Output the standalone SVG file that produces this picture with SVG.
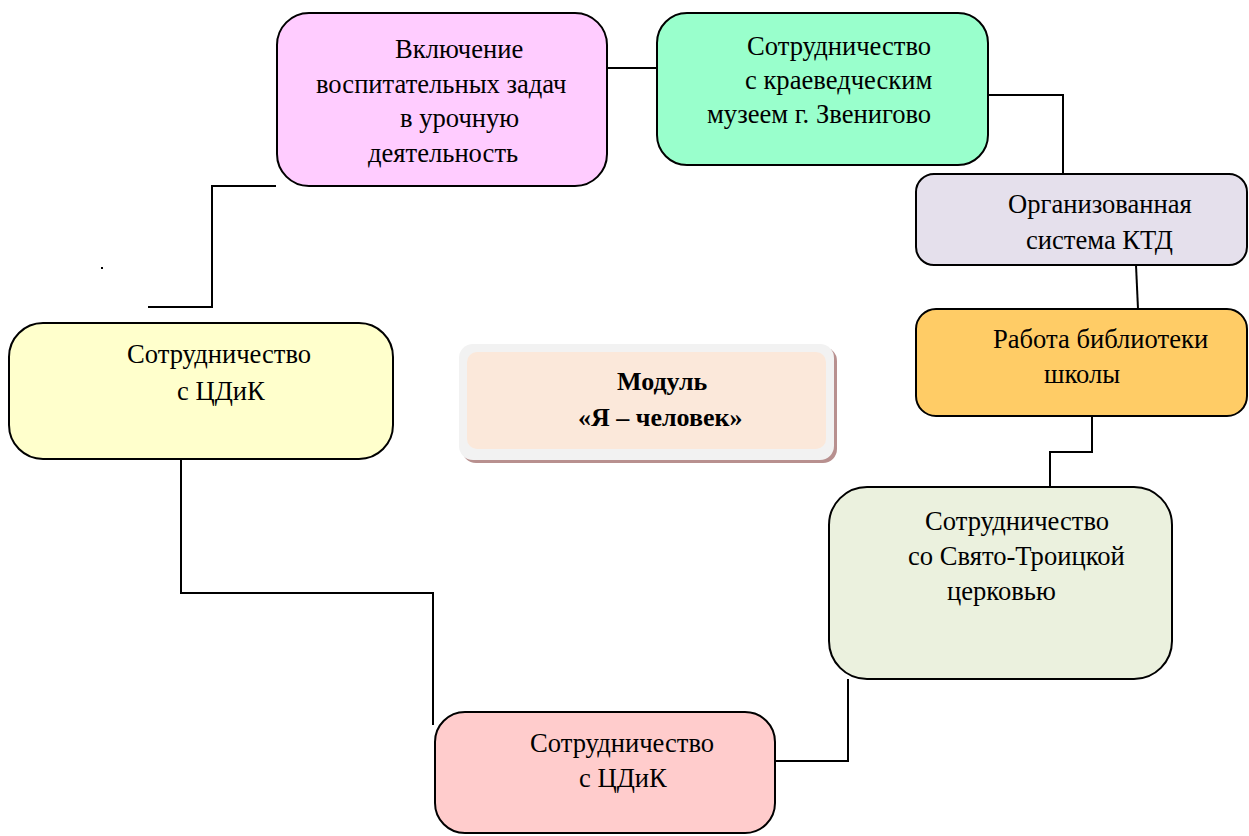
<svg xmlns="http://www.w3.org/2000/svg" width="1249" height="836" viewBox="0 0 1249 836">
<style>
.box{stroke:#000;stroke-width:2}
.t{font-family:"Liberation Serif","Times New Roman",serif;font-size:26.6px;fill:#000}
.b{font-family:"Liberation Serif","Times New Roman",serif;font-size:26px;font-weight:bold;fill:#000}
.c{fill:none;stroke:#000;stroke-width:2}
</style>
<rect width="1249" height="836" fill="#fff"/>
<g id="connectors">
<polyline class="c" points="607,68 657,68"/>
<polyline class="c" points="988,95 1063,95 1063,175"/>
<polyline class="c" points="1136,265 1138,309"/>
<polyline class="c" points="1092,416 1092,452 1050,452 1050,487"/>
<polyline class="c" points="848,679 848,761 771,761"/>
<polyline class="c" points="433,725 433,593 181,593 181,459"/>
<polyline class="c" points="148,307 212,307 212,186 276,186"/>
<rect x="101" y="267" width="2" height="2" fill="#000"/>
</g>
<g id="n-lessons">
<rect class="box" x="277" y="13" width="330" height="173" rx="32" fill="#FFCCFF"/>
<text class="t" x="395" y="58">Включение</text>
<text class="t" x="316" y="93">воспитательных задач</text>
<text class="t" x="400" y="127">в урочную</text>
<text class="t" x="368" y="162">деятельность</text>
</g>
<g id="n-museum">
<rect class="box" x="657" y="13" width="331" height="152" rx="30" fill="#99FFCC"/>
<text class="t" x="747" y="55">Сотрудничество</text>
<text class="t" x="745" y="89">с краеведческим</text>
<text class="t" x="707" y="123">музеем г. Звенигово</text>
</g>
<g id="n-ktd">
<rect class="box" x="916" y="174" width="331" height="91" rx="18" fill="#E5E0EC"/>
<text class="t" x="1008" y="213">Организованная</text>
<text class="t" x="1026" y="249">система КТД</text>
</g>
<g id="n-library">
<rect class="box" x="916" y="309" width="331" height="107" rx="20" fill="#FFCC66"/>
<text class="t" x="993" y="348">Работа библиотеки</text>
<text class="t" x="1044" y="383">школы</text>
</g>
<g id="n-church">
<rect class="box" x="829" y="487" width="343" height="192" rx="38" fill="#EBF1DE"/>
<text class="t" x="925" y="530">Сотрудничество</text>
<text class="t" x="908" y="565">со Свято-Троицкой</text>
<text class="t" x="947" y="600">церковью</text>
</g>
<g id="n-cdik-bottom">
<rect class="box" x="435" y="712" width="340" height="121" rx="30" fill="#FFCCCC"/>
<text class="t" x="530" y="752">Сотрудничество</text>
<text class="t" x="579" y="787">с ЦДиК</text>
</g>
<g id="n-cdik-left">
<rect class="box" x="9" y="323" width="384" height="136" rx="34" fill="#FFFFCC"/>
<text class="t" x="127" y="363">Сотрудничество</text>
<text class="t" x="177" y="400">с ЦДиК</text>
</g>
<g id="n-module">
<rect x="462" y="347" width="375" height="116" rx="14" fill="#B8908F"/>
<rect x="459" y="344" width="375" height="116" rx="14" fill="#F2F2F2"/>
<rect x="467" y="352" width="359" height="97" rx="10" fill="#FBE8DA"/>
<text class="b" x="617" y="390">Модуль</text>
<text class="b" x="578" y="426">«Я – человек»</text>
</g>
</svg>
